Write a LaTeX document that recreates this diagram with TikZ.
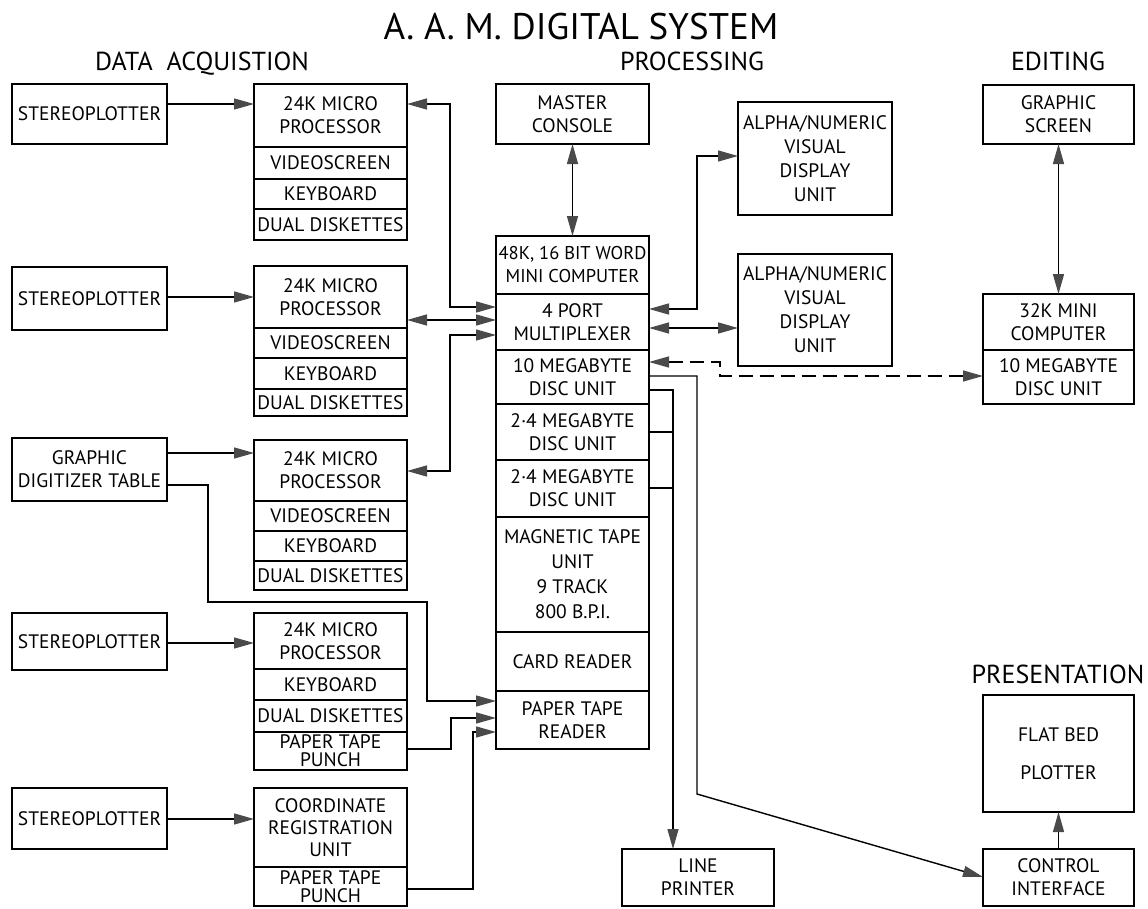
\documentclass[tikz,border=0pt]{standalone}
\usepackage{fontspec}
\setmainfont{PT Sans}
\usetikzlibrary{arrows.meta}
\definecolor{tipgray}{HTML}{4A4A4A}
\begin{document}
\begin{tikzpicture}[x=1pt,y=-1pt,
  box/.style={draw, line width=1.6pt, anchor=north west, inner sep=0pt, outer sep=0pt,
    align=center, font=\fontsize{19.5}{23}\selectfont, minimum width=153pt},
  conn/.style={line width=1.4pt},
  >={Triangle[length=20pt,width=11pt,color=tipgray]},
  one/.style={conn,->},
  two/.style={conn,<->},
  heading/.style={anchor=base, inner sep=0pt, font=\fontsize{26}{30}\selectfont},
  ]
\useasboundingbox (0,0) rectangle (1148,908);
\fill[white] (0,0) rectangle (1148,908);

% headings
\node[anchor=base, inner sep=0pt, font=\fontsize{37}{42}\selectfont] (title) at (581,39) {A. A. M. DIGITAL SYSTEM};
\node[heading] (hacq) at (202,70) {DATA\ \ ACQUISTION};
\node[heading] (hproc) at (692,70) {PROCESSING};
\node[heading] (hedit) at (1058,70) {EDITING};
\node[heading] (hpres) at (1058,683) {PRESENTATION};

% stereoplotters
\node[box, minimum width=155pt, minimum height=60pt] (sp1) at (12,84) {STEREOPLOTTER};
\node[box, minimum width=155pt, minimum height=63pt] (sp2) at (12,267) {STEREOPLOTTER};
\node[box, minimum width=155pt, minimum height=63pt] (gdt) at (12,438) {GRAPHIC\\DIGITIZER TABLE};
\node[box, minimum width=155pt, minimum height=57pt] (sp4) at (12,613) {STEREOPLOTTER};
\node[box, minimum width=155pt, minimum height=61pt] (sp5) at (12,788) {STEREOPLOTTER};

% micro processors
\node[box, minimum height=63pt] (mp1a) at (254,84) {24K MICRO\\PROCESSOR};
\node[box, minimum height=32pt] (mp1b) at (254,147) {VIDEOSCREEN};
\node[box, minimum height=30pt] (mp1c) at (254,179) {KEYBOARD};
\node[box, minimum height=31pt] (mp1d) at (254,209) {DUAL DISKETTES};

\node[box, minimum height=62pt] (mp2a) at (254,266) {24K MICRO\\PROCESSOR};
\node[box, minimum height=30pt] (mp2b) at (254,328) {VIDEOSCREEN};
\node[box, minimum height=31pt] (mp2c) at (254,358) {KEYBOARD};
\node[box, minimum height=27pt] (mp2d) at (254,389) {DUAL DISKETTES};

\node[box, minimum height=61pt] (mp3a) at (254,440) {24K MICRO\\PROCESSOR};
\node[box, minimum height=30pt] (mp3b) at (254,501) {VIDEOSCREEN};
\node[box, minimum height=30pt] (mp3c) at (254,531) {KEYBOARD};
\node[box, minimum height=29pt] (mp3d) at (254,561) {DUAL DISKETTES};

\node[box, minimum height=56pt] (mp4a) at (254,613) {24K MICRO\\PROCESSOR};
\node[box, minimum height=31pt] (mp4b) at (254,669) {KEYBOARD};
\node[box, minimum height=32pt] (mp4c) at (254,700) {DUAL DISKETTES};
\node[box, minimum height=38pt, font=\fontsize{19.5}{18}\selectfont] (mp4d) at (254,732) {PAPER TAPE\\PUNCH};

\node[box, minimum height=79pt, font=\fontsize{19.5}{22}\selectfont] (mp5a) at (254,788) {COORDINATE\\REGISTRATION\\UNIT};
\node[box, minimum height=39pt, font=\fontsize{19.5}{18}\selectfont] (mp5b) at (254,867) {PAPER TAPE\\PUNCH};

% processing column
\node[box, minimum height=60pt] (master) at (496,84) {MASTER\\CONSOLE};
\node[box, minimum height=58pt, font=\fontsize{18.5}{23}\selectfont] (c1) at (496,236) {48K, 16 BIT WORD\\MINI COMPUTER};
\node[box, minimum height=56pt] (c2) at (496,294) {4 PORT\\MULTIPLEXER};
\node[box, minimum height=54pt] (c3) at (496,350) {10 MEGABYTE\\DISC UNIT};
\node[box, minimum height=56pt] (c4) at (496,404) {2·4 MEGABYTE\\DISC UNIT};
\node[box, minimum height=57pt] (c5) at (496,460) {2·4 MEGABYTE\\DISC UNIT};
\node[box, minimum height=115pt, font=\fontsize{19.5}{25}\selectfont] (c6) at (496,517) {MAGNETIC TAPE\\UNIT\\9 TRACK\\800 B.P.I.};
\node[box, minimum height=59pt] (c7) at (496,632) {CARD READER};
\node[box, minimum height=58pt] (c8) at (496,691) {PAPER TAPE\\READER};

\node[box, minimum width=154pt, minimum height=113pt, font=\fontsize{19.5}{24}\selectfont] (alpha1) at (738,102) {ALPHA/NUMERIC\\VISUAL\\DISPLAY\\UNIT};
\node[box, minimum width=154pt, minimum height=112pt, font=\fontsize{19.5}{24}\selectfont] (alpha2) at (738,254) {ALPHA/NUMERIC\\VISUAL\\DISPLAY\\UNIT};

\node[box, minimum width=152pt, minimum height=57pt] (lp) at (622,849) {LINE\\PRINTER};

% editing
\node[box, minimum width=151pt, minimum height=59pt] (gscreen) at (983,85) {GRAPHIC\\SCREEN};
\node[box, minimum width=151pt, minimum height=56pt] (k32) at (983,294) {32K MINI\\COMPUTER};
\node[box, minimum width=151pt, minimum height=54pt] (d32) at (983,350) {10 MEGABYTE\\DISC UNIT};

% presentation
\node[box, minimum width=151pt, minimum height=117pt] (flat) at (983,695) {FLAT BED\\[15pt]PLOTTER};
\node[box, minimum width=151pt, minimum height=57pt] (ctrl) at (983,849) {CONTROL\\INTERFACE};

% connectors: acquisition
\draw[one] (sp1.east |- 0,104) -- (mp1a.west |- 0,104);
\draw[one] (sp2.east |- 0,297) -- (mp2a.west |- 0,297);
\draw[one] (gdt.east |- 0,453) -- (mp3a.west |- 0,453);
\draw[one] (sp4.east |- 0,643) -- (mp4a.west |- 0,643);
\draw[one] (sp5.east |- 0,819) -- (mp5a.west |- 0,819);

\draw[two] (mp1a.east |- 0,104) -- (450,104) -- (450,307) -- (c2.west |- 0,307);
\draw[two] (mp2a.east |- 0,320) -- (c2.west |- 0,320);
\draw[two] (mp3a.east |- 0,471) -- (450,471) -- (450,335) -- (c2.west |- 0,335);

\draw[one] (gdt.east |- 0,485) -- (208,485) -- (208,602) -- (427,602) -- (427,701) -- (c8.west |- 0,701);
\draw[one] (mp4d.east |- 0,749) -- (451,749) -- (451,718) -- (c8.west |- 0,718);
\draw[one] (mp5b.east |- 0,889) -- (473,889) -- (473,732) -- (c8.west |- 0,732);

% processing
\draw[two] (master.south) -- (c1.north);
\draw[two] (c2.east |- 0,309) -- (697,309) -- (697,156) -- (alpha1.west |- 0,156);
\draw[two] (c2.east |- 0,328) -- (alpha2.west |- 0,328);
\draw[two, dash pattern=on 14pt off 7pt] (c3.east |- 0,362) -- (720,362) -- (720,376) -- (d32.west |- 0,376);

\draw[one] (c3.east |- 0,390) -- (673,390) -- (lp.north -| 673,0);
\draw[conn] (c4.east |- 0,432) -- (673,432);
\draw[conn] (c5.east |- 0,488) -- (673,488);
\draw[one] (c3.east |- 0,376) -- (697,376) -- (697,794) -- (ctrl.west |- 0,877);

% editing / presentation
\draw[two] (gscreen.south) -- (k32.north);
\draw[one] (ctrl.north) -- (flat.south);
\end{tikzpicture}
\end{document}
